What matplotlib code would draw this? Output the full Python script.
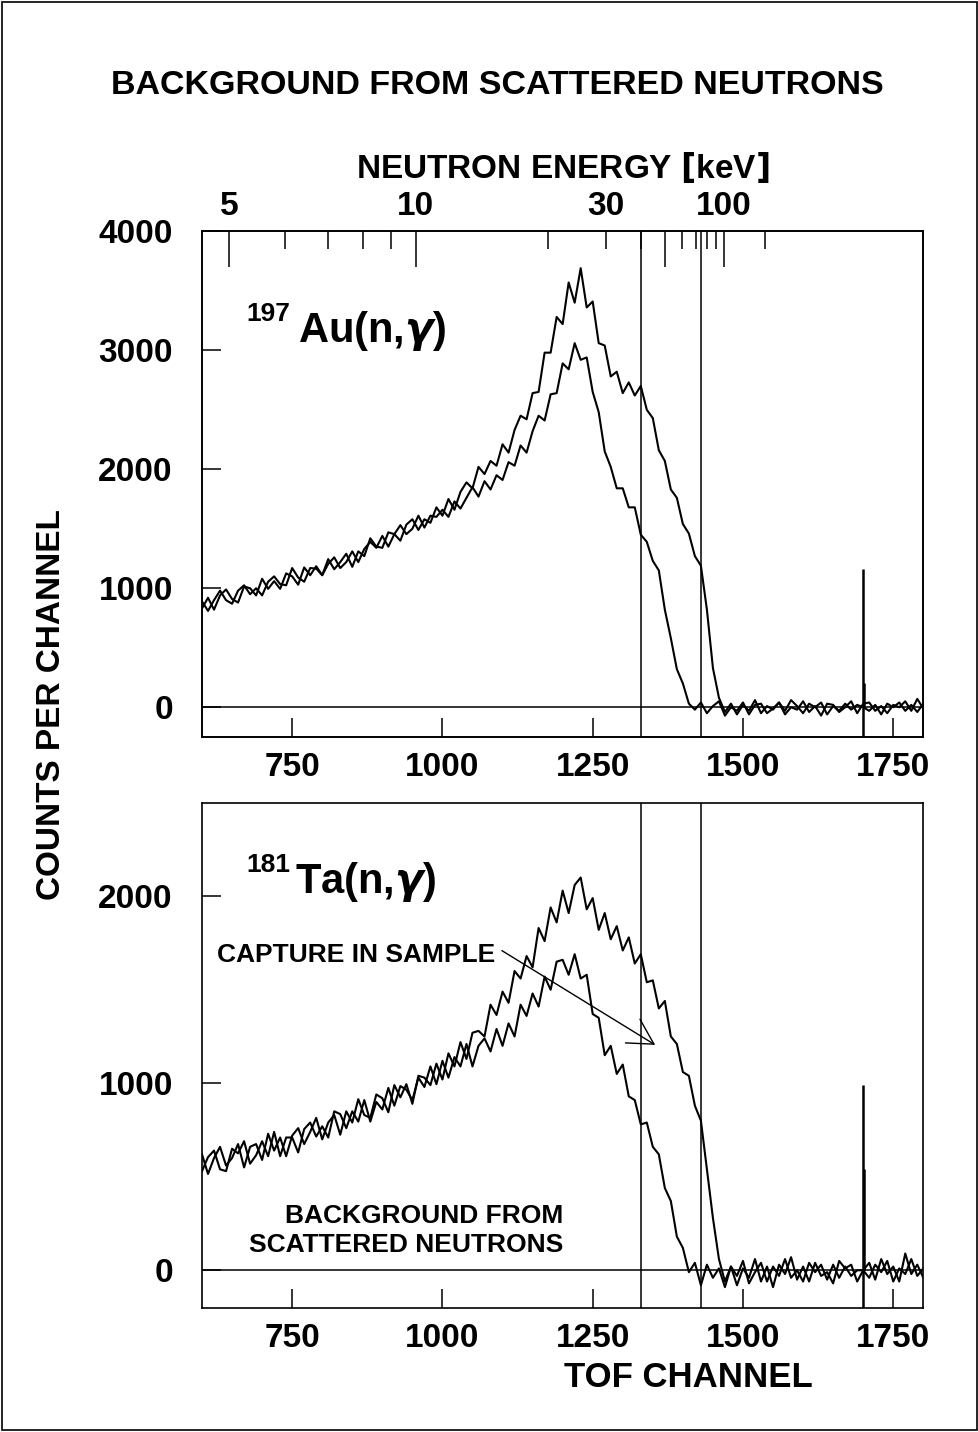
import numpy as np
import matplotlib.pyplot as plt

plt.rcParams['font.family'] = ['Liberation Sans', 'DejaVu Sans']
plt.rcParams['font.weight'] = 'bold'
plt.rcParams['mathtext.fontset'] = 'dejavusans'

# TOF channels, one reading every 10 channels
channel = np.arange(600, 1801, 10)

# 197Au(n,g): capture in sample (upper) and scattered-neutron background (lower)
au_sample = [
    890, 810, 900, 980, 900, 870, 980, 1025, 950, 1000,
    940, 1055, 1100, 1035, 1025, 1170, 1090, 1055, 1170, 1165,
    1110, 1245, 1160, 1220, 1290, 1180, 1310, 1270, 1420, 1350,
    1340, 1470, 1455, 1400, 1535, 1580, 1490, 1580, 1550, 1680,
    1610, 1750, 1660, 1810, 1890, 1840, 2020, 1960, 2070, 2030,
    2210, 2140, 2330, 2450, 2420, 2640, 2650, 2980, 2980, 3280,
    3220, 3570, 3400, 3690, 3360, 3410, 3060, 3040, 2780, 2820,
    2640, 2730, 2620, 2700, 2500, 2430, 2160, 2070, 1830, 1760,
    1540, 1460, 1270, 1190, 820, 330, 80, -40, 30, -60,
    20, -30, 60, -50, 10, -20, 40, -60, 0, -20,
    50, -40, 10, -70, 30, 20, -40, 0, 50, -50,
    30, 40, -30, 10, -50, 20, 0, 50, -30, 70,
    -10]
au_background = [
    830, 920, 820, 940, 990, 910, 880, 1015, 1000, 940,
    1080, 995, 1060, 995, 1125, 1100, 1030, 1175, 1110, 1185,
    1110, 1205, 1260, 1170, 1220, 1310, 1220, 1330, 1390, 1340,
    1440, 1350, 1455, 1530, 1455, 1500, 1610, 1510, 1610, 1600,
    1660, 1600, 1730, 1670, 1760, 1850, 1770, 1900, 1830, 1950,
    1910, 2060, 2030, 2200, 2140, 2320, 2450, 2410, 2630, 2640,
    2890, 2840, 3060, 2920, 2940, 2650, 2480, 2150, 2020, 1840,
    1840, 1680, 1680, 1450, 1390, 1230, 1150, 820, 580, 320,
    200, 30, -20, 40, -50, 10, 50, -70, 0, -30,
    40, -60, 20, 30, -50, -10, 40, -30, 60, 10,
    -50, 30, 0, 40, -60, 10, -30, 30, -20, 20,
    0, -30, 20, -60, 30, 0, 40, -30, 20, -40,
    30]

# 181Ta(n,g)
ta_sample = [
    620, 515, 600, 660, 560, 600, 675, 550, 660, 675,
    590, 730, 640, 710, 610, 720, 760, 675, 740, 815,
    700, 790, 830, 725, 850, 790, 915, 830, 815, 940,
    920, 845, 990, 925, 995, 890, 1040, 1030, 990, 1105,
    1020, 1160, 1090, 1220, 1130, 1270, 1280, 1250, 1420, 1365,
    1490, 1430, 1600, 1560, 1680, 1620, 1830, 1760, 1940, 1860,
    2030, 1910, 2060, 2100, 1930, 1990, 1820, 1910, 1770, 1840,
    1710, 1780, 1640, 1690, 1540, 1550, 1400, 1440, 1250, 1210,
    1060, 1040, 880, 800, 540, 280, 60, -60, 20, -80,
    10, -40, 60, -60, 20, -90, 30, -20, 70, -50,
    20, -60, 40, -30, -10, -70, 50, 10, 30, -60,
    0, 40, -50, 60, -20, 20, -60, 90, -20, 30,
    -40]
ta_background = [
    530, 605, 640, 540, 530, 650, 625, 690, 570, 615,
    690, 610, 740, 610, 710, 710, 630, 755, 790, 715,
    770, 710, 850, 835, 760, 850, 795, 910, 795, 900,
    860, 975, 880, 985, 965, 910, 1030, 980, 1090, 995,
    1120, 1030, 1140, 1090, 1210, 1090, 1200, 1240, 1170, 1290,
    1200, 1320, 1250, 1420, 1360, 1480, 1410, 1570, 1500, 1650,
    1660, 1580, 1690, 1560, 1580, 1370, 1350, 1150, 1200, 1050,
    1100, 930, 910, 780, 790, 660, 620, 440, 370, 180,
    120, -10, 40, -80, 30, -40, 10, -90, 20, -30,
    50, -70, -10, 40, -60, 20, -30, 60, -40, 0,
    -60, 40, -10, 30, -50, 30, -40, 20, -30, 0,
    0, -40, 30, -10, 50, -60, 10, -20, 60, -30,
    10]

# single-channel spikes near channel 1700
spike_channel = [1700, 1702]
au_spike_low = [-260, 0]
au_spike_high = [1160, 200]
ta_spike_low = [-210, 0]
ta_spike_high = [990, 540]

# integration limits (TOF channel)
cut_channels = [1331, 1430]

# neutron energy axis (keV)
energy_major = [5, 10, 50, 100]
energy_major_labels = ['5', '10', '', '100']
energy_minor = [6, 7, 8, 9, 20, 30, 40, 60, 70, 80, 90, 200]
energy_minor_labels = ['', '', '', '', '', '30', '', '', '', '', '', '']

# calibration: E = (A / (C0 - channel))**2 keV
A_CAL = 2368.3
C0_CAL = 1704.5


def energy_to_channel(e):
    return C0_CAL - A_CAL / np.sqrt(np.asarray(e, dtype=float))


W, H = 979, 1432
fig = plt.figure(figsize=(W / 100, H / 100), dpi=100)
ax1 = fig.add_axes([202 / W, 1 - 737 / H, 721.3 / W, 505.7 / H])
ax2 = fig.add_axes([202 / W, 1 - 1307.7 / H, 721.3 / W, 505 / H])


def draw_panel(ax, upper, lower, sp_lo, sp_hi, ylim, yticks):
    ax.plot(channel, upper, color='black', lw=1.5)
    ax.plot(channel, lower, color='black', lw=1.5)
    ax.vlines(spike_channel, sp_lo, sp_hi, color='black', lw=1.8)
    ax.axhline(0, color='black', lw=1.1)
    for c in cut_channels:
        ax.axvline(c, color='black', lw=1.1)
    ax.set_xlim(600, 1800)
    ax.set_ylim(*ylim)
    ax.set_xticks([750, 1000, 1250, 1500, 1750])
    ax.set_yticks(yticks)
    ax.tick_params(axis='both', direction='in', length=14, width=1.1,
                   labelsize=24, top=False, right=False)
    ax.tick_params(axis='x', pad=11)
    ax.tick_params(axis='y', pad=21)
    for s in ax.spines.values():
        s.set_linewidth(1.2)


draw_panel(ax1, au_sample, au_background, au_spike_low, au_spike_high,
           (-250, 4000), [0, 1000, 2000, 3000, 4000])
draw_panel(ax2, ta_sample, ta_background, ta_spike_low, ta_spike_high,
           (-200, 2500), [0, 1000, 2000])

# energy scale on top of the upper panel
ax_e = ax1.twiny()
ax_e.set_xlim(ax1.get_xlim())
ax_e.set_xticks(energy_to_channel(energy_major), labels=energy_major_labels)
ax_e.set_xticks(energy_to_channel(energy_minor), labels=energy_minor_labels,
                minor=True)
ax_e.tick_params(axis='x', which='major', direction='in', length=26,
                 width=1.1, pad=7, labelsize=24)
ax_e.tick_params(axis='x', which='minor', direction='in', length=13,
                 width=1.1, pad=7, labelsize=24)
ax_e.set_xlabel('NEUTRON ENERGY $[$keV$]$', fontsize=24,
                fontweight='bold', labelpad=9)
for s in ax_e.spines.values():
    s.set_linewidth(1.2)

# sample labels
ax1.text(0.061, 0.823, '197', transform=ax1.transAxes, fontsize=19,
         va='baseline')
ax1.text(0.133, 0.782, 'Au(n,$\\gamma$)', transform=ax1.transAxes,
         fontsize=30, va='baseline')
ax2.text(0.062, 0.862, '181', transform=ax2.transAxes, fontsize=19,
         va='baseline')
ax2.text(0.129, 0.821, 'Ta(n,$\\gamma$)', transform=ax2.transAxes,
         fontsize=30, va='baseline')

ax2.text(625, 1650, 'CAPTURE IN SAMPLE', fontsize=19, va='baseline')
ax2.annotate('', xy=(1354, 1205), xytext=(1099, 1709),
             arrowprops=dict(arrowstyle='->,head_length=0.9,head_width=0.5',
                             mutation_scale=20, lw=1.0, color='black',
                             shrinkA=0, shrinkB=0))
ax2.text(1201, 252, 'BACKGROUND FROM', fontsize=19, ha='right', va='baseline')
ax2.text(1201, 96, 'SCATTERED NEUTRONS', fontsize=19, ha='right',
         va='baseline')

fig.text(497 / W, 1 - 94 / H, 'BACKGROUND FROM SCATTERED NEUTRONS',
         fontsize=24.5, ha='center', va='baseline')
fig.text(52 / W, 1 - 705 / H, 'COUNTS PER CHANNEL', fontsize=24,
         rotation=90, ha='center', va='center')
fig.text(688 / W, 1 - 1387 / H, 'TOF CHANNEL', fontsize=25,
         ha='center', va='baseline')

fig.add_artist(plt.Rectangle((0.002, 0.0015), 0.996, 0.997,
                             transform=fig.transFigure, fill=False,
                             lw=1.2, ec='black'))

fig.savefig('out.png', dpi=100)
